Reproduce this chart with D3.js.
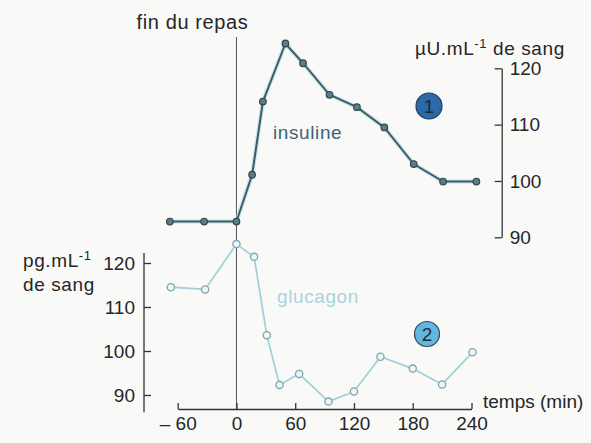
<!DOCTYPE html>
<html lang="fr">
<head>
    <meta charset="UTF-8">
    <title>Insuline et glucagon après un repas</title>
    <script src="https://d3js.org/d3.v7.min.js"></script>
    <style>
        body { margin: 0; background: #f9f9f8; }
        svg text { font-family: "Liberation Sans", Arial, sans-serif; fill: #262626; }
        .lbl { font-size: 19px; letter-spacing: 0.6px; }
    </style>
</head>
<body>
    <div id="chart"></div>

    <script>
        // temps (min) et valeurs
        var insulinTimes  = [-68, -33, 0, 16, 27, 50, 68, 95, 123, 151, 181, 211, 245];
        var insulinValues = [92.8, 92.8, 92.8, 101.1, 114.1, 124.4, 120.9, 115.3, 113.1, 109.5, 103.0, 99.9, 99.9];

        var glucagonTimes  = [-67, -32, 0, 18, 31, 44, 64, 94, 120, 147, 180, 210, 241];
        var glucagonValues = [114.5, 114.0, 124.3, 121.4, 103.6, 92.3, 94.8, 88.5, 90.8, 98.7, 96.0, 92.4, 99.7];

        var timeTicks   = [-60, 0, 60, 120, 180, 240];
        var insulinTicks  = [90, 100, 110, 120];
        var glucagonTicks = [90, 100, 110, 120];

        var width = 591, height = 443;

        var svg = d3.select("#chart")
            .append("svg")
            .attr("width", width)
            .attr("height", height);

        var x = d3.scaleLinear().domain([-60, 240]).range([177.7, 471.5]);
        var yIns = d3.scaleLinear().domain([90, 120]).range([237.3, 68.3]);
        var yGlu = d3.scaleLinear().domain([90, 120]).range([395, 263]);

        var xAxisY = 409;

        // fin du repas
        svg.append("line")
            .attr("x1", x(0)).attr("x2", x(0))
            .attr("y1", 37).attr("y2", xAxisY)
            .attr("stroke", "#555")
            .attr("stroke-width", 1);

        svg.append("text")
            .attr("class", "lbl")
            .attr("x", x(0) - 44)
            .attr("y", 29)
            .attr("text-anchor", "middle")
            .style("font-size", "20px")
            .text("fin du repas");

        // axe du temps
        var xAxis = svg.append("g")
            .attr("transform", "translate(0," + xAxisY + ")")
            .call(d3.axisBottom(x)
                .tickValues(timeTicks)
                .tickSizeInner(-6)
                .tickSizeOuter(0)
                .tickPadding(8)
                .tickFormat(function(d) { return d < 0 ? "\u2013 " + Math.abs(d) : d; }));

        // axe glucagon (gauche)
        var gluAxis = svg.append("g")
            .attr("transform", "translate(144,0)")
            .call(d3.axisLeft(yGlu)
                .tickValues(glucagonTicks)
                .tickSizeInner(-7)
                .tickSizeOuter(0)
                .tickPadding(9));
        gluAxis.select(".domain").remove();
        gluAxis.append("line")
            .attr("y1", yGlu(122.3)).attr("y2", yGlu(86.1))
            .attr("stroke", "#333").attr("stroke-width", 1.3);

        // axe insuline (droite)
        var insAxis = svg.append("g")
            .attr("transform", "translate(501.7,0)")
            .call(d3.axisRight(yIns)
                .tickValues(insulinTicks)
                .tickSizeInner(-7)
                .tickSizeOuter(0)
                .tickPadding(8));

        [xAxis, gluAxis, insAxis].forEach(function(g) {
            g.selectAll("text").style("font-size", "19px").attr("fill", "#262626");
            g.selectAll("line, path").attr("stroke", "#333").attr("stroke-width", 1.3);
        });

        // titres des axes
        var insLabel = svg.append("text").attr("class", "lbl").attr("x", 415).attr("y", 55);
        insLabel.append("tspan").text("\u00b5U.mL");
        insLabel.append("tspan").attr("dy", -7).style("font-size", "13px").text("-1");
        insLabel.append("tspan").attr("dy", 7).text(" de sang");

        var gluLabel = svg.append("text").attr("class", "lbl").attr("x", 23).attr("y", 267);
        gluLabel.append("tspan").text("pg.mL");
        gluLabel.append("tspan").attr("dy", -7).style("font-size", "13px").text("-1");
        svg.append("text").attr("class", "lbl").attr("x", 23).attr("y", 291).text("de sang");

        svg.append("text")
            .attr("class", "lbl")
            .attr("x", 483).attr("y", 408)
            .style("letter-spacing", "0px")
            .text("temps (min)");

        // courbes
        var insulinData = insulinTimes.map(function(t, i) { return [t, insulinValues[i]]; });
        var glucagonData = glucagonTimes.map(function(t, i) { return [t, glucagonValues[i]]; });

        var insLine = d3.line().x(function(d) { return x(d[0]); }).y(function(d) { return yIns(d[1]); });
        var gluLine = d3.line().x(function(d) { return x(d[0]); }).y(function(d) { return yGlu(d[1]); });

        svg.append("path")
            .datum(glucagonData)
            .attr("d", gluLine)
            .attr("fill", "none")
            .attr("stroke", "#9fd0da")
            .attr("stroke-width", 1.7);

        svg.selectAll(".glu-pt")
            .data(glucagonData)
            .enter().append("circle")
            .attr("class", "glu-pt")
            .attr("cx", function(d) { return x(d[0]); })
            .attr("cy", function(d) { return yGlu(d[1]); })
            .attr("r", 3.6)
            .attr("fill", "#eef6f7")
            .attr("stroke", "#7da6ae")
            .attr("stroke-width", 1.3);

        svg.append("path")
            .datum(insulinData)
            .attr("d", insLine)
            .attr("fill", "none")
            .attr("stroke", "#b5dbe4")
            .attr("stroke-width", 4.5)
            .attr("opacity", 0.6);

        svg.append("path")
            .datum(insulinData)
            .attr("d", insLine)
            .attr("fill", "none")
            .attr("stroke", "#3c5c66")
            .attr("stroke-width", 2);

        svg.selectAll(".ins-pt")
            .data(insulinData)
            .enter().append("circle")
            .attr("class", "ins-pt")
            .attr("cx", function(d) { return x(d[0]); })
            .attr("cy", function(d) { return yIns(d[1]); })
            .attr("r", 3.3)
            .attr("fill", "#5d7c84")
            .attr("stroke", "#2d4951")
            .attr("stroke-width", 1.2);

        // noms des courbes
        svg.append("text")
            .attr("class", "lbl")
            .attr("x", 273).attr("y", 139)
            .style("fill", "#3b6577")
            .text("insuline");

        svg.append("text")
            .attr("class", "lbl")
            .attr("x", 277).attr("y", 303)
            .style("fill", "#a9d3dc")
            .text("glucagon");

        // pastilles numérotées
        var badges = [
            { label: "1", cx: 429, cy: 106, r: 13, fill: "#2b6aa6", stroke: "#1d3f60" },
            { label: "2", cx: 427, cy: 334, r: 12.5, fill: "#62b7df", stroke: "#2b4a5c" }
        ];
        badges.forEach(function(b) {
            svg.append("circle")
                .attr("cx", b.cx).attr("cy", b.cy).attr("r", b.r)
                .attr("fill", b.fill).attr("stroke", b.stroke).attr("stroke-width", 1.2);
            svg.append("text")
                .attr("x", b.cx).attr("y", b.cy + 7)
                .attr("text-anchor", "middle")
                .style("font-size", "19px")
                .style("fill", "#1d2d38")
                .text(b.label);
        });
    </script>
</body>
</html>
